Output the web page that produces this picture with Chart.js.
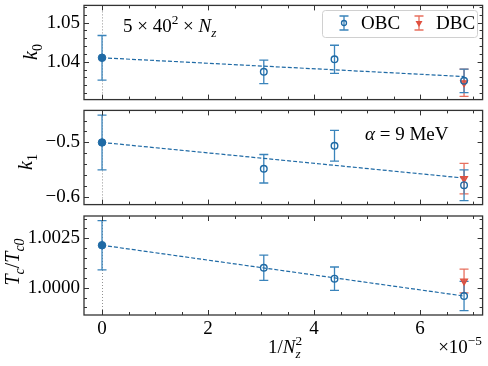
<!DOCTYPE html>
<html>
<head>
<meta charset="utf-8">
<script src="https://cdn.jsdelivr.net/npm/chart.js@4.4.0/dist/chart.umd.min.js"></script>
<style>
  html, body { margin: 0; padding: 0; background: #fff; }
  #wrap { position: relative; width: 488px; height: 366px; overflow: hidden; }
  canvas { position: absolute; left: 0; }
</style>
</head>
<body>
<div id="wrap">
  <canvas id="c0" width="488" height="105" style="top:0"></canvas>
  <canvas id="c1" width="488" height="105" style="top:105px"></canvas>
  <canvas id="c2" width="488" height="156" style="top:210px"></canvas>
</div>
<script>
// x = 1/Nz^2 in units of 1e-5  (Nz = 181, 151, 121)
const xObc = [3.052, 4.386, 6.830];
const xDbc = [6.830];
const xExtrap = [0];
const xFit = [0, 6.830];
const xTicks = [0, 2, 4, 6];

// k0
const k0Obc = [1.0374, 1.0406, 1.0351];
const k0ObcErr = [0.0030, 0.0036, 0.0030];
const k0Dbc = [1.0346];
const k0DbcErr = [0.0035];
const k0Extrap = [1.0410];
const k0ExtrapErr = [0.0057];
const k0Fit = [1.0410, 1.0362];
const k0Ticks = [1.04, 1.05];

// k1
const k1Obc = [-0.548, -0.506, -0.578];
const k1ObcErr = [0.026, 0.028, 0.028];
const k1Dbc = [-0.566];
const k1DbcErr = [0.028];
const k1Extrap = [-0.500];
const k1ExtrapErr = [0.050];
const k1Fit = [-0.500, -0.565];
const k1Ticks = [-0.6, -0.5];

// Tc / Tc0
const tcObc = [1.00101, 1.00046, 0.99958];
const tcObcErr = [0.00064, 0.00059, 0.00074];
const tcDbc = [1.00034];
const tcDbcErr = [0.00060];
const tcExtrap = [1.00215];
const tcExtrapErr = [0.00125];
const tcFit = [1.00215, 0.99958];
const tcTicks = [1.0000, 1.0025];

const BLUE = '#1f6aa5';
const BLUE_ERR = '#3a84bb';
const RED = '#e0503f';
const RED_ERR = '#e8705f';
const FONT = '"Liberation Serif", "Times New Roman", serif';

const pts = (xs, ys) => xs.map((x, i) => ({ x: x, y: ys[i] }));

// draws text with sub/superscripts; parts: {t, it, sub, sup, stack}
function drawRich(ctx, parts, x, y, size, align) {
  const items = [];
  let cx = 0, stackStart = null, stackW = 0;
  parts.forEach(p => {
    const s = (p.sub || p.sup) ? size * 0.7 : size;
    ctx.font = (p.it ? 'italic ' : '') + s + 'px ' + FONT;
    const w = ctx.measureText(p.t).width;
    const dy = p.sub ? size * 0.24 : p.sup ? -size * 0.4 : 0;
    if (stackStart !== null) {
      items.push({ p, s, x: stackStart, dy });
      cx = stackStart + Math.max(stackW, w);
      stackStart = null;
    } else if (p.stack) {
      items.push({ p, s, x: cx, dy });
      stackStart = cx; stackW = w;
    } else {
      items.push({ p, s, x: cx, dy });
      cx += w;
    }
  });
  const x0 = align === 'center' ? x - cx / 2 : align === 'right' ? x - cx : x;
  ctx.fillStyle = '#000';
  ctx.textBaseline = 'alphabetic';
  ctx.textAlign = 'left';
  items.forEach(it => {
    ctx.font = (it.p.it ? 'italic ' : '') + it.s + 'px ' + FONT;
    ctx.fillText(it.p.t, x0 + it.x, y + it.dy);
  });
}

function errBarSymbol(ctx, cx, top, bot, color) {
  ctx.strokeStyle = color; ctx.lineWidth = 1.3;
  ctx.beginPath();
  ctx.moveTo(cx, top); ctx.lineTo(cx, bot);
  ctx.moveTo(cx - 4.5, top); ctx.lineTo(cx + 4.5, top);
  ctx.moveTo(cx - 4.5, bot); ctx.lineTo(cx + 4.5, bot);
  ctx.stroke();
}

function panelPlugin(cfg) {
  return {
    id: 'panel',
    beforeDatasetsDraw(chart) {
      const { ctx, chartArea: a, scales: { x, y } } = chart;
      ctx.save();
      // dotted line at x = 0
      const px = Math.round(x.getPixelForValue(0)) + 0.5;
      ctx.strokeStyle = '#777'; ctx.lineWidth = 0.8; ctx.setLineDash([1, 2]);
      ctx.beginPath(); ctx.moveTo(px, a.top); ctx.lineTo(px, a.bottom); ctx.stroke();
      ctx.setLineDash([]);
      // error bars
      chart.data.datasets.forEach(ds => {
        if (!ds.errs) return;
        ds.data.forEach((p, i) => {
          errBarSymbol(ctx, x.getPixelForValue(p.x),
            y.getPixelForValue(p.y + ds.errs[i]),
            y.getPixelForValue(p.y - ds.errs[i]), ds.errColor);
        });
      });
      ctx.restore();
    },
    afterDraw(chart) {
      const { ctx, chartArea: a, scales: { x, y } } = chart;
      ctx.save();
      // inward ticks on all four sides
      ctx.strokeStyle = '#333'; ctx.lineWidth = 1;
      ctx.beginPath();
      const xt = (v, len) => {
        const p = Math.round(x.getPixelForValue(v)) + 0.5;
        ctx.moveTo(p, a.top); ctx.lineTo(p, a.top + len);
        ctx.moveTo(p, a.bottom); ctx.lineTo(p, a.bottom - len);
      };
      const yt = (v, len) => {
        const p = Math.round(y.getPixelForValue(v)) + 0.5;
        ctx.moveTo(a.left, p); ctx.lineTo(a.left + len, p);
        ctx.moveTo(a.right, p); ctx.lineTo(a.right - len, p);
      };
      for (let k = Math.ceil(x.min / 0.5); k * 0.5 <= x.max; k++) xt(k * 0.5, k % 4 === 0 ? 5 : 3);
      for (let k = Math.ceil(y.min / cfg.minor - 1e-6); k * cfg.minor <= y.max + 1e-9; k++) {
        const v = k * cfg.minor;
        const major = cfg.majors.some(m => Math.abs(m - v) < cfg.minor / 10);
        yt(v, major ? 5 : 3);
      }
      ctx.stroke();
      // frame
      ctx.strokeStyle = '#333'; ctx.lineWidth = 1.3;
      ctx.strokeRect(a.left, a.top, a.right - a.left, a.bottom - a.top);
      // y title (rotated)
      ctx.translate(cfg.titleX, cfg.titleY);
      ctx.rotate(-Math.PI / 2);
      drawRich(ctx, cfg.title, 0, 0, cfg.titleSize, 'center');
      ctx.restore();
      if (cfg.extra) cfg.extra(ctx, chart);
    }
  };
}

function noPad(s) {
  s.paddingTop = 0; s.paddingBottom = 0; s.paddingLeft = 0; s.paddingRight = 0;
}

function makePanel(id, cfg) {
  const datasets = [
    { data: pts(xFit, cfg.fit), showLine: true, borderColor: BLUE, borderWidth: 1.2,
      borderDash: [4, 2], pointRadius: 0, order: 5 },
    { data: pts(xExtrap, cfg.extrap), errs: cfg.extrapErr, errColor: BLUE_ERR,
      pointRadius: 3.8, backgroundColor: BLUE, borderColor: BLUE, borderWidth: 1, order: 1 },
    { data: pts(xDbc, cfg.dbc), errs: cfg.dbcErr, errColor: RED_ERR, pointStyle: 'triangle',
      rotation: 180, pointRadius: 4, backgroundColor: 'rgba(224,80,63,0.85)', borderColor: RED,
      borderWidth: 1.2, order: 3 },
    { data: pts(xObc, cfg.obc), errs: cfg.obcErr, errColor: BLUE_ERR,
      pointRadius: 3.3, backgroundColor: 'rgba(0,0,0,0)', borderColor: BLUE, borderWidth: 1.4, order: 2 }
  ];
  return new Chart(document.getElementById(id), {
    type: 'scatter',
    data: { datasets },
    options: {
      responsive: false,
      animation: false,
      layout: { padding: cfg.padding },
      plugins: { legend: { display: false }, tooltip: { enabled: false } },
      scales: {
        x: {
          type: 'linear', min: -0.34, max: 7.18,
          display: cfg.showX,
          grid: { display: false, drawTicks: false },
          border: { display: false },
          afterBuildTicks: s => { s.ticks = xTicks.map(v => ({ value: v })); },
          afterFit: s => { if (cfg.showX) s.height = 51; noPad(s); },
          ticks: { padding: 3, color: '#000', font: { family: FONT, size: 19 },
                   maxRotation: 0, callback: v => String(v) }
        },
        y: {
          type: 'linear', min: cfg.ymin, max: cfg.ymax,
          grid: { display: false, drawTicks: false },
          border: { display: false },
          afterBuildTicks: s => { s.ticks = cfg.majors.map(v => ({ value: v })); },
          afterFit: s => { s.width = 84; noPad(s); },
          ticks: { padding: 4, color: '#000', font: { family: FONT, size: 19 },
                   callback: v => (v < 0 ? '\u2212' : '') + Math.abs(v).toFixed(cfg.dec) }
        }
      }
    },
    plugins: [panelPlugin(cfg)]
  });
}

makePanel('c0', {
  obc: k0Obc, obcErr: k0ObcErr, dbc: k0Dbc, dbcErr: k0DbcErr,
  extrap: k0Extrap, extrapErr: k0ExtrapErr, fit: k0Fit,
  ymin: 1.0303, ymax: 1.0544, majors: k0Ticks, minor: 0.002, dec: 2,
  padding: { top: 3, bottom: 3, left: 0, right: 3 }, showX: false,
  title: [{ t: 'k', it: true }, { t: '0', sub: true }], titleX: 37, titleY: 52, titleSize: 20,
  extra: (ctx, chart) => {
    ctx.save();
    drawRich(ctx, [{ t: '5 \u00d7 40' }, { t: '2', sup: true }, { t: ' \u00d7 ' },
      { t: 'N', it: true }, { t: 'z', it: true, sub: true }], 123, 32, 19, 'left');
    // legend
    const bx = 322, by = 10, bw = 155, bh = 27, r = 3;
    ctx.fillStyle = 'rgba(255,255,255,0.8)';
    ctx.strokeStyle = '#d0d0d0'; ctx.lineWidth = 1;
    ctx.beginPath();
    ctx.roundRect(bx + 0.5, by + 0.5, bw, bh, r);
    ctx.fill(); ctx.stroke();
    errBarSymbol(ctx, 344, 16, 30, BLUE_ERR);
    ctx.strokeStyle = BLUE; ctx.lineWidth = 1.3;
    ctx.beginPath(); ctx.arc(344, 23, 2.5, 0, Math.PI * 2); ctx.stroke();
    errBarSymbol(ctx, 419, 16, 30, RED_ERR);
    ctx.fillStyle = RED;
    ctx.beginPath(); ctx.moveTo(415.5, 21); ctx.lineTo(422.5, 21); ctx.lineTo(419, 27); ctx.closePath(); ctx.fill();
    ctx.fillStyle = '#000'; ctx.font = '19px ' + FONT; ctx.textBaseline = 'alphabetic';
    ctx.fillText('OBC', 361, 29);
    ctx.fillText('DBC', 436, 29);
    ctx.restore();
  }
});

makePanel('c1', {
  obc: k1Obc, obcErr: k1ObcErr, dbc: k1Dbc, dbcErr: k1DbcErr,
  extrap: k1Extrap, extrapErr: k1ExtrapErr, fit: k1Fit,
  ymin: -0.6134, ymax: -0.4415, majors: k1Ticks, minor: 0.02, dec: 1,
  padding: { top: 3, bottom: 3, left: 0, right: 3 }, showX: false,
  title: [{ t: 'k', it: true }, { t: '1', sub: true }], titleX: 32, titleY: 57, titleSize: 20,
  extra: (ctx) => {
    ctx.save();
    drawRich(ctx, [{ t: '\u03b1', it: true }, { t: ' = 9 MeV' }], 365, 35, 19, 'left');
    ctx.restore();
  }
});

makePanel('c2', {
  obc: tcObc, obcErr: tcObcErr, dbc: tcDbc, dbcErr: tcDbcErr,
  extrap: tcExtrap, extrapErr: tcExtrapErr, fit: tcFit,
  ymin: 0.99862, ymax: 1.00363, majors: tcTicks, minor: 0.0005, dec: 4,
  padding: { top: 6, bottom: 0, left: 0, right: 3 }, showX: true,
  title: [{ t: 'T', it: true }, { t: 'c', it: true, sub: true }, { t: '/' },
          { t: 'T', it: true }, { t: 'c0', it: true, sub: true }],
  titleX: 19, titleY: 52, titleSize: 20,
  extra: (ctx) => {
    ctx.save();
    drawRich(ctx, [{ t: '1/' }, { t: 'N', it: true }, { t: 'z', it: true, sub: true, stack: true },
      { t: '2', sup: true }], 285, 143, 19, 'center');
    drawRich(ctx, [{ t: '\u00d710' }, { t: '\u22125', sup: true }], 482, 143, 19, 'right');
    ctx.restore();
  }
});
</script>
</body>
</html>
